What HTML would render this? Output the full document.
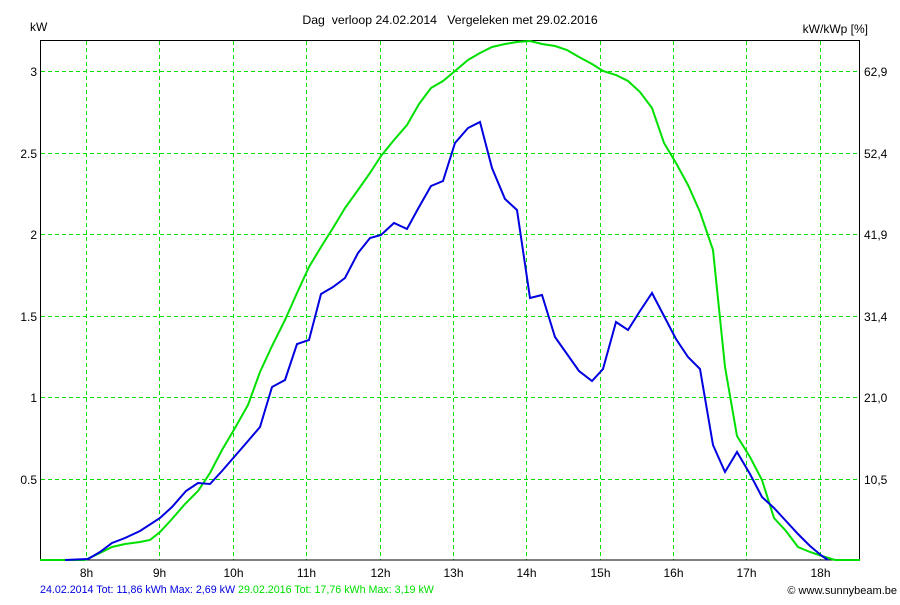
<!DOCTYPE html>
<html><head><meta charset="utf-8"><style>
html,body{margin:0;padding:0;background:#fff;}
svg text{font-family:"Liberation Sans",Arial,sans-serif;font-size:12px;fill:#000;white-space:pre;}
</style></head><body>
<svg width="900" height="600" xmlns="http://www.w3.org/2000/svg" xml:space="preserve">
<rect width="900" height="600" fill="#fff"/>
<g stroke="#00e000" stroke-width="1" stroke-dasharray="4,3" fill="none">
<line x1="86.5" y1="41" x2="86.5" y2="560"/>
<line x1="159.5" y1="41" x2="159.5" y2="560"/>
<line x1="233.5" y1="41" x2="233.5" y2="560"/>
<line x1="306.5" y1="41" x2="306.5" y2="560"/>
<line x1="380.5" y1="41" x2="380.5" y2="560"/>
<line x1="453.5" y1="41" x2="453.5" y2="560"/>
<line x1="526.5" y1="41" x2="526.5" y2="560"/>
<line x1="600.5" y1="41" x2="600.5" y2="560"/>
<line x1="673.5" y1="41" x2="673.5" y2="560"/>
<line x1="746.5" y1="41" x2="746.5" y2="560"/>
<line x1="820.5" y1="41" x2="820.5" y2="560"/>
<line x1="41" y1="71.5" x2="860" y2="71.5"/>
<line x1="41" y1="153.5" x2="860" y2="153.5"/>
<line x1="41" y1="234.5" x2="860" y2="234.5"/>
<line x1="41" y1="316.5" x2="860" y2="316.5"/>
<line x1="41" y1="397.5" x2="860" y2="397.5"/>
<line x1="41" y1="479.5" x2="860" y2="479.5"/>
</g>
<rect x="40.5" y="40.5" width="819" height="519.5" fill="none" stroke="#000" stroke-width="1"/>
<polyline fill="none" stroke="#00e000" stroke-width="2" points="40,560 65,560 85,560 100,553 112,547 125,544 140,542 150,540 160,532 172,519 185,504 198,491 210,473 222,450 235,428 248,405 260,372 272,346 285,320 297,293 309,267 321,247 333,228 345,208 358,190 370,173 381,156 394,140 407,125 419,104 431,88 443,81 455,71 468,60 480,53 492,47 505,44 517,42 530,41 542,44 555,46 567,50 579,57 592,64 603,71 616,75 628,81 640,92 652,108 664,143 676,163 688,185 700,212 713,250 725,367 737,436 750,457 762,480 774,518 786,531 798,547 810,552 822,556 835,560 860,560"/>
<polyline fill="none" stroke="#0000e0" stroke-width="2" points="65,560 88,559 100,552 112,543 125,538 140,531 160,518 172,507 186,491 198,483 210,484 222,471 235,456 248,441 260,427 272,387 285,380 297,344 309,340 321,294 333,287 345,278 358,253 370,238 381,235 394,223 407,229 419,207 431,186 443,181 455,143 468,128 480,122 492,168 505,199 517,210 530,298 542,295 555,337 567,354 579,371 592,381 603,369 616,322 628,330 640,311 652,293 664,316 676,339 688,357 700,369 713,445 725,472 737,452 750,474 762,497 774,508 786,521 798,534 810,546 822,556 828,560"/>
<text x="450" y="24" text-anchor="middle" style="font-size:12.3px">Dag  verloop 24.02.2014   Vergeleken met 29.02.2016</text>
<text x="30" y="31">kW</text>
<text x="868" y="33" text-anchor="end">kW/kWp [%]</text>
<g text-anchor="end">
<text x="37" y="76">3</text>
<text x="37" y="158">2.5</text>
<text x="37" y="239">2</text>
<text x="37" y="321">1.5</text>
<text x="37" y="402">1</text>
<text x="37" y="484">0.5</text>
</g>
<g>
<text x="864" y="76">62,9</text>
<text x="864" y="158">52,4</text>
<text x="864" y="239">41,9</text>
<text x="864" y="321">31,4</text>
<text x="864" y="402">21,0</text>
<text x="864" y="484">10,5</text>
</g>
<g text-anchor="middle">
<text x="86.5" y="577">8h</text>
<text x="159.5" y="577">9h</text>
<text x="233.5" y="577">10h</text>
<text x="306.5" y="577">11h</text>
<text x="380.5" y="577">12h</text>
<text x="453.5" y="577">13h</text>
<text x="526.5" y="577">14h</text>
<text x="600.5" y="577">15h</text>
<text x="673.5" y="577">16h</text>
<text x="746.5" y="577">17h</text>
<text x="820.5" y="577">18h</text>
</g>
<text x="40" y="593" style="font-size:10.7px"><tspan fill="#0000e0">24.02.2014 Tot: 11,86 kWh Max: 2,69 kW </tspan><tspan fill="#00e000">29.02.2016 Tot: 17,76 kWh Max: 3,19 kW</tspan></text>
<text x="897" y="594" text-anchor="end" style="font-size:11px">© www.sunnybeam.be</text>
</svg>
</body></html>
